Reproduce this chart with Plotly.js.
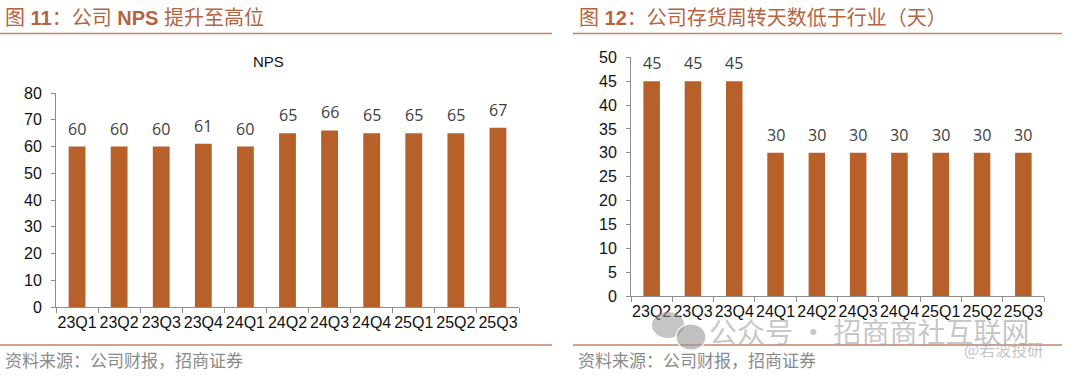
<!DOCTYPE html>
<html>
<head>
<meta charset="utf-8">
<script src="https://cdn.plot.ly/plotly-3.0.1.min.js"></script>
<style>html,body{margin:0;padding:0;background:#fff;}#chart{width:1080px;height:376px;}</style>
</head>
<body>
<div id="chart"></div>
<script>
// ---- data ----
const npsQuarters = ["23Q1","23Q2","23Q3","23Q4","24Q1","24Q2","24Q3","24Q4","25Q1","25Q2","25Q3"];
const npsValues = [60,60,60,61,60,65,66,65,65,65,67];
const invQuarters = ["23Q2","23Q3","23Q4","24Q1","24Q2","24Q3","24Q4","25Q1","25Q2","25Q3"];
const invDays = [45,45,45,30,30,30,30,30,30,30];
const leftTitle = "图 <b>11</b>：公司 <b>NPS</b> 提升至高位";
const rightTitle = "图 <b>12</b>：公司存货周转天数低于行业（天）";
const chartTitle = "NPS";
const sourceText = "资料来源：公司财报，招商证券";

// ---- styles ----
const W = 1080, H = 376;
const barColor = "#B8602A";
const brown = "#B5643F";
const lineColor = "#C08468";
const latin = "Liberation Sans, Arial, sans-serif";
const cjk = "Liberation Sans, Noto Sans CJK SC, sans-serif";
const px = v => v / W;
const py = v => 1 - v / H;

const traces = [
  {type:"bar", x:npsQuarters, y:npsValues, xaxis:"x", yaxis:"y", marker:{color:barColor}, hoverinfo:"skip"},
  {type:"bar", x:invQuarters, y:invDays, xaxis:"x2", yaxis:"y2", marker:{color:barColor}, hoverinfo:"skip"}
];

const axisCommon = {
  showgrid:false, zeroline:false, showline:true, linecolor:"#8C8C8C", linewidth:1,
  ticks:"outside", tickcolor:"#8C8C8C", ticklen:5, tickwidth:1,
  tickfont:{family:latin, size:16, color:"#111"}, fixedrange:true
};

const labelAnn = (xs, ys, xa, ya) => xs.map((c, i) => ({
  x:c, y:ys[i], xref:xa, yref:ya, text:String(ys[i]), showarrow:false,
  yanchor:"middle", xanchor:"center", yshift:18,
  font:{family:"Open Sans, Liberation Sans, sans-serif", size:16, color:"#404040"}
}));

const layout = {
  width:W, height:H, margin:{l:0,r:0,t:0,b:0},
  paper_bgcolor:"#fff", plot_bgcolor:"#fff", showlegend:false, bargap:0.6,
  xaxis:Object.assign({}, axisCommon, {domain:[px(56), px(519)], anchor:"y", tickson:"boundaries", tickangle:0, ticklabelstandoff:1}),
  yaxis:Object.assign({}, axisCommon, {domain:[py(307), py(93)], anchor:"x", range:[0,80], dtick:10, ticklen:4, ticklabelstandoff:6}),
  xaxis2:Object.assign({}, axisCommon, {domain:[px(631), px(1044)], anchor:"y2", tickson:"boundaries", tickangle:0, ticklabelstandoff:1}),
  yaxis2:Object.assign({}, axisCommon, {domain:[py(296), py(57.3)], anchor:"x2", range:[0,50], dtick:5, ticklen:4, ticklabelstandoff:6}),
  shapes:[
    {type:"line", xref:"paper", yref:"paper", x0:0, x1:px(552), y0:py(33.5), y1:py(33.5), line:{color:lineColor, width:1.5}},
    {type:"line", xref:"paper", yref:"paper", x0:px(573), x1:px(1062), y0:py(33.5), y1:py(33.5), line:{color:lineColor, width:1.5}},
    {type:"line", xref:"paper", yref:"paper", x0:0, x1:px(552), y0:py(345), y1:py(345), line:{color:lineColor, width:1.5}},
    {type:"line", xref:"paper", yref:"paper", x0:px(573), x1:px(1062), y0:py(345), y1:py(345), line:{color:lineColor, width:1.5}},
    // watermark icon
    {type:"circle", xref:"paper", yref:"paper", x0:px(652), x1:px(684), y0:py(338), y1:py(312), fillcolor:"rgba(150,150,150,0.55)", line:{width:0}},
    {type:"circle", xref:"paper", yref:"paper", x0:px(676), x1:px(706), y0:py(350), y1:py(324), fillcolor:"rgba(150,150,150,0.6)", line:{color:"rgba(255,255,255,0.8)", width:1.5}}
  ],
  annotations:[
    {xref:"paper", yref:"paper", x:px(3), y:py(18), xanchor:"left", yanchor:"middle", text:leftTitle, showarrow:false, font:{family:cjk, size:20, color:brown}},
    {xref:"paper", yref:"paper", x:px(577), y:py(18), xanchor:"left", yanchor:"middle", text:rightTitle, showarrow:false, font:{family:cjk, size:20, color:brown}},
    {xref:"paper", yref:"paper", x:px(268), y:py(62), xanchor:"center", yanchor:"middle", text:chartTitle, showarrow:false, font:{family:latin, size:15, color:"#111"}},
    {xref:"paper", yref:"paper", x:px(3), y:py(361), xanchor:"left", yanchor:"middle", text:sourceText, showarrow:false, font:{family:cjk, size:17, color:"#8A8A8A"}},
    {xref:"paper", yref:"paper", x:px(576), y:py(361), xanchor:"left", yanchor:"middle", text:sourceText, showarrow:false, font:{family:cjk, size:17, color:"#8A8A8A"}},
    // watermark
    {xref:"paper", yref:"paper", x:px(707), y:py(331), xanchor:"left", yanchor:"middle", text:"公众号 · 招商商社互联网", showarrow:false, font:{family:"Noto Sans CJK SC, sans-serif", size:28, color:"rgba(150,150,150,0.55)"}},
    {xref:"paper", yref:"paper", x:px(1003), y:py(349), xanchor:"center", yanchor:"middle", text:"@若波投研", showarrow:false, font:{family:"Noto Sans CJK SC, sans-serif", size:16, color:"rgba(170,170,170,0.7)"}}
  ].concat(labelAnn(npsQuarters, npsValues, "x", "y"), labelAnn(invQuarters, invDays, "x2", "y2"))
};

Plotly.newPlot("chart", traces, layout, {staticPlot:true, displayModeBar:false});
</script>
</body>
</html>
